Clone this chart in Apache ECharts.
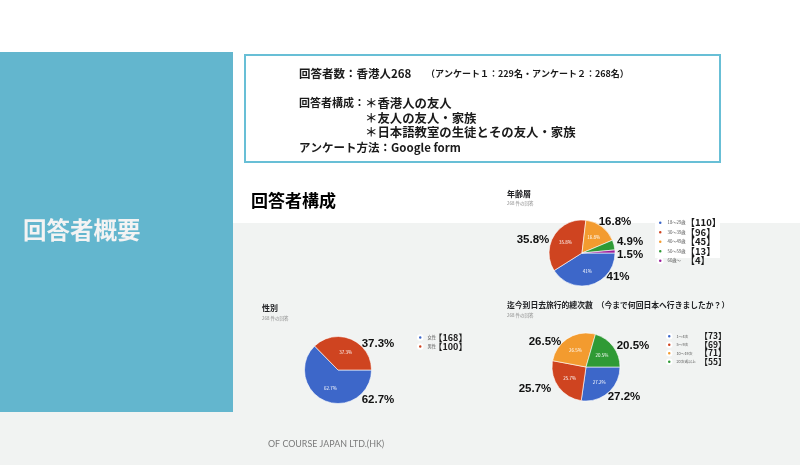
<!DOCTYPE html>
<html><head><meta charset="utf-8">
<script src="https://cdn.jsdelivr.net/npm/echarts@6/dist/echarts.min.js"></script>
<style>html,body{margin:0;padding:0;background:#fff}#c{width:800px;height:465px}</style>
</head><body><div id="c"></div>
<script>
// ---- data ----
const ageNames = ['18〜29歳', '30〜39歳', '40〜49歳', '50〜59歳', '60歳〜'];
const ageCounts = [110, 96, 45, 13, 4];
const genderNames = ['女性', '男性'];
const genderCounts = [168, 100];
const tripNames = ['1〜4次', '5〜9次', '10〜19次', '20次或以上'];
const tripCounts = [73, 69, 71, 55];

// ---- styles / layout ----
const sliceColors = ['#3d67c9', '#cf4420', '#f39b2f', '#2f9a35', '#9b1c9b'];
// placement of the large annotation labels, relative to each pie centre
const ageLabelOffsets = [[36, 24], [-49, -13], [33, -31], [48, -11], [48, 2]];
const genderLabelOffsets = [[40, 30], [40, -26]];
const tripLabelOffsets = [[38, 30], [-51, 22], [-41, -25], [47, -21]];

const FONT = '"Noto Sans CJK JP", "Noto Sans", sans-serif';
const chart = echarts.init(document.getElementById('c'), null, {renderer: 'canvas'});

function mk(names, counts) {
  return names.map((n, i) => ({name: n, value: counts[i], itemStyle: {color: sliceColors[i]}}));
}
function pct(v, counts) {
  const t = counts.reduce((a, b) => a + b, 0);
  let s = (v / t * 100).toFixed(1);
  if (s.endsWith('.0')) s = s.slice(0, -2);
  return s + '%';
}
function pieSeries(names, counts, center, radius, offsets) {
  const data = mk(names, counts);
  const total = counts.reduce((a, b) => a + b, 0);
  return [{
    type: 'pie', center: center, radius: radius, startAngle: 0, clockwise: true,
    z: 2, data: data, avoidLabelOverlap: false,
    itemStyle: {borderColor: '#ffffff', borderWidth: 0.6},
    label: {show: true, position: 'outside', formatter: p => pct(p.value, counts),
      fontFamily: '"Liberation Sans", Arial, sans-serif', fontSize: 11.5, fontWeight: 'bold', color: '#111', padding: 0},
    labelLine: {show: false, length: 4, length2: 4},
    labelLayout: p => ({
      x: center[0] + offsets[p.dataIndex][0],
      y: center[1] + offsets[p.dataIndex][1],
      align: 'center', verticalAlign: 'middle'
    }),
    emphasis: {disabled: true}
  }, {
    type: 'pie', center: center, radius: radius, startAngle: 0, clockwise: true,
    z: 3, data: data.map(d => ({name: d.name, value: d.value})), silent: true,
    itemStyle: {color: 'rgba(0,0,0,0)', borderWidth: 0},
    label: {show: true, position: 'inside',
      formatter: p => (p.value / total < 0.1 ? '' : pct(p.value, counts)),
      fontFamily: FONT, fontSize: 4.5, color: '#fff'},
    labelLine: {show: false},
    emphasis: {disabled: true}
  }];
}
function legend(names, counts, left, top, nameW, rowH, nameSize, countSize) {
  return {
    orient: 'vertical', left: left, top: top, itemWidth: 4.5, itemHeight: 4.5, itemGap: 0,
    icon: 'circle', selectedMode: false, data: names, padding: 0,
    formatter: n => '{n|' + n + '}{c|【' + counts[names.indexOf(n)] + '】}',
    textStyle: {fontFamily: FONT, rich: {
      n: {fontSize: nameSize, color: '#555', width: nameW, lineHeight: rowH, fontFamily: FONT},
      c: {fontSize: countSize, color: '#1a1a1a', lineHeight: rowH, fontFamily: FONT, fontWeight: 'bold'}
    }}
  };
}

const txt = (x, y, s, size, color, weight, family) => ({
  type: 'text', x: x, y: y,
  style: {text: s, fontFamily: family || FONT, fontSize: size, fill: color, fontWeight: weight || 'normal', textVerticalAlign: 'middle'}
});

const option = {
  backgroundColor: '#f1f3f2',
  animation: false,
  graphic: [
    {type: 'rect', shape: {x: 0, y: 0, width: 800, height: 223}, style: {fill: '#ffffff'}, z: -10},
    {type: 'rect', shape: {x: 655, y: 223, width: 65, height: 35}, style: {fill: '#ffffff'}, z: -10},
    {type: 'rect', shape: {x: 0, y: 52, width: 233, height: 360}, style: {fill: '#63b6ce'}, z: -9},
    {type: 'rect', shape: {x: 245, y: 55, width: 475, height: 107}, style: {fill: '#ffffff', stroke: '#68bfd6', lineWidth: 2}, z: -9},
    txt(23, 230, '回答者概要', 23.5, '#f3f3f3', 'bold'),
    txt(299, 74, '回答者数：香港人268', 11.5, '#1a1a1a', 'bold'),
    txt(426, 74, '（アンケート１：229名・アンケート２：268名）', 9, '#1a1a1a', 'bold'),
    txt(299, 103, '回答者構成：', 11, '#1a1a1a', 'bold'),
    txt(365, 103, '＊香港人の友人', 12.4, '#1a1a1a', 'bold'),
    txt(365, 118, '＊友人の友人・家族', 12.4, '#1a1a1a', 'bold'),
    txt(365, 132, '＊日本語教室の生徒とその友人・家族', 12.4, '#1a1a1a', 'bold'),
    txt(299, 148, 'アンケート方法：Google form', 11.5, '#1a1a1a', 'bold'),
    txt(251, 201, '回答者構成', 17, '#000000', 'bold'),
    txt(507, 194, '年齢層', 8, '#202124', 'bold'),
    txt(507, 203, '268 件の回答', 4.5, '#888888'),
    txt(262, 308, '性別', 8, '#202124', 'bold'),
    txt(262, 318, '268 件の回答', 4.5, '#888888'),
    txt(507, 305, '迄今到日去旅行的總次數　（今まで何回日本へ行きましたか？）', 7.8, '#202124', 'bold'),
    txt(507, 315, '268 件の回答', 4.5, '#888888'),
    txt(268, 444, 'OF COURSE JAPAN LTD.(HK)', 8.9, '#7a7a7a', 'normal', 'Lato, "Open Sans", sans-serif')
  ],
  legend: [
    legend(ageNames, ageCounts, 657, 218, 18, 6.8, 4.3, 9.5),
    legend(genderNames, genderCounts, 417, 333, 6, 8, 4.3, 9),
    legend(tripNames, tripCounts, 666, 332, 23, 7.2, 3.8, 8.5)
  ],
  series: [].concat(
    pieSeries(ageNames, ageCounts, [582, 253], [0, 33], ageLabelOffsets),
    pieSeries(genderNames, genderCounts, [338, 370], [0, 33.5], genderLabelOffsets),
    pieSeries(tripNames, tripCounts, [586, 367], [0, 34], tripLabelOffsets)
  )
};
chart.setOption(option);
</script>
</body></html>
